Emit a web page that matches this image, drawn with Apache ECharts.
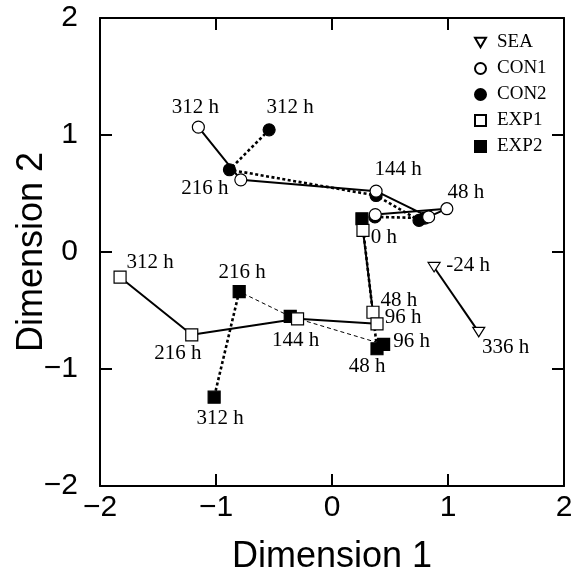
<!DOCTYPE html>
<html>
<head>
<meta charset="utf-8">
<script src="https://cdn.jsdelivr.net/npm/echarts@6/dist/echarts.min.js"></script>
<style>html,body{margin:0;padding:0;background:#fff;}#c{width:574px;height:577px;}</style>
</head>
<body>
<div id="c"></div>
<script>
// ---- data ----
const axisTicks = [-2, -1, 0, 1, 2];
const times = ['0 h', '48 h', '96 h', '144 h', '216 h', '312 h'];
const seaTimes = ['-24 h', '336 h'];
const seaX = [0.88, 1.265];
const seaY = [-0.13, -0.685];
const con1X = [0.373, 0.99, 0.833, 0.38, -0.786, -1.152];
const con1Y = [0.32, 0.37, 0.30, 0.52, 0.617, 1.067];
const con2X = [0.37, 0.80, 0.75, 0.38, -0.884, -0.542];
const con2Y = [0.30, 0.29, 0.27, 0.483, 0.703, 1.044];
const exp1X = [0.267, 0.353, 0.388, -0.297, -1.209, -1.827];
const exp1Y = [0.184, -0.515, -0.614, -0.571, -0.708, -0.215];
const exp2X = [0.258, 0.388, 0.445, -0.36, -0.80, -1.016];
const exp2Y = [0.284, -0.827, -0.79, -0.551, -0.338, -1.241];

// ---- layout (label offsets in px, per point index) ----
const labelPlace = {
  SEA: {0: [34, -2], 1: [27, 15]},
  CON1: {1: [19, -16], 3: [22, -22], 4: [-36, 9], 5: [-3, -20]},
  CON2: {5: [21, -22]},
  EXP1: {0: [21, 7], 1: [26, -12], 2: [26, -6], 3: [-2, 22], 4: [-14, 19], 5: [30, -15]},
  EXP2: {1: [-10, 18], 2: [28, -3], 4: [3, -19], 5: [6, 21]}
};

const serif = '"Liberation Serif","Times New Roman",serif';
const sans = '"Liberation Sans",Arial,sans-serif';
const downTri = 'path://M0,0L10,0L5,8.66Z';

function pts(xs, ys) { return xs.map((x, i) => [x, ys[i]]); }
function scatterData(name, xs, ys, labels) {
  const place = labelPlace[name] || {};
  return xs.map((x, i) => {
    const item = {value: [x, ys[i]]};
    if (place[i]) {
      item.label = {show: true, formatter: labels[i], offset: place[i]};
    }
    return item;
  });
}
function scatter(name, xs, ys, labels, symbol, filled, z) {
  return {
    name: name, type: 'scatter', z: z,
    symbol: symbol, symbolSize: symbol === downTri ? [12, 11] : 12,
    symbolKeepAspect: true,
    itemStyle: {color: filled ? '#000' : '#fff', borderColor: '#000', borderWidth: 1.2, opacity: 1},
    label: {show: false, position: 'inside', color: '#000', fontFamily: serif, fontSize: 21,
            align: 'center', verticalAlign: 'middle'},
    emphasis: {disabled: true},
    data: scatterData(name, xs, ys, labels)
  };
}
function line(data, width, type) {
  return {
    type: 'line', z: 2, silent: true, showSymbol: false, symbol: 'none', connectNulls: false,
    lineStyle: {color: '#000', width: width, type: type},
    emphasis: {disabled: true},
    data: data
  };
}

const exp2Pts = pts(exp2X, exp2Y);
const series = [
  line(pts(seaX, seaY), 2, 'solid'),
  line(pts(con1X, con1Y), 2, 'solid'),
  line(pts(con2X, con2Y), 2.6, [3, 2.5]),
  line(pts(exp1X, exp1Y), 2, 'solid'),
  line(exp2Pts.slice(1, 5), 1, [4, 3]),
  line([exp2Pts[0], exp2Pts[1], ['-', '-'], exp2Pts[4], exp2Pts[5]], 2.6, [3, 2.5]),
  scatter('EXP2', exp2X, exp2Y, times, 'rect', true, 3),
  scatter('EXP1', exp1X, exp1Y, times, 'rect', false, 4),
  scatter('CON2', con2X, con2Y, times, 'circle', true, 5),
  scatter('CON1', con1X, con1Y, times, 'circle', false, 6),
  scatter('SEA', seaX, seaY, seaTimes, downTri, false, 7)
];

const minusFmt = v => String(v).replace('-', '\u2212');
const axisCommon = {
  type: 'value', min: axisTicks[0], max: axisTicks[axisTicks.length - 1], interval: 1,
  splitLine: {show: false},
  axisLine: {show: true, onZero: false, lineStyle: {color: '#000', width: 2}},
  axisTick: {show: true, inside: true, length: 12, lineStyle: {color: '#000', width: 2}}
};

const chart = echarts.init(document.getElementById('c'), null, {renderer: 'canvas'});
chart.setOption({
  animation: false,
  backgroundColor: '#fff',
  grid: {left: 100, right: 10, top: 18, bottom: 91, containLabel: false, outerBoundsMode: 'none'},
  legend: {
    show: true, orient: 'vertical', left: 469, top: 28,
    data: ['SEA', 'CON1', 'CON2', 'EXP1', 'EXP2'],
    itemWidth: 11, itemHeight: 11, itemGap: 7,
    textStyle: {fontFamily: serif, fontSize: 19, color: '#000', lineHeight: 18, padding: [0, 0, 0, 6]},
    selectedMode: false
  },
  xAxis: [
    Object.assign({}, axisCommon, {
      position: 'bottom', name: 'Dimension 1', nameLocation: 'middle', nameGap: 53,
      nameMoveOverlap: false,
      nameTextStyle: {fontFamily: sans, fontSize: 36, color: '#000'},
      axisLabel: {show: true, margin: 7, fontFamily: sans, fontSize: 30, color: '#000', formatter: minusFmt}
    }),
    Object.assign({}, axisCommon, {position: 'top', axisLabel: {show: false}})
  ],
  yAxis: [
    Object.assign({}, axisCommon, {
      position: 'left', name: 'Dimension 2', nameLocation: 'middle', nameGap: 50,
      nameMoveOverlap: false,
      nameTextStyle: {fontFamily: sans, fontSize: 36, color: '#000'},
      axisLabel: {show: true, margin: 22, fontFamily: sans, fontSize: 30, color: '#000', formatter: minusFmt}
    }),
    Object.assign({}, axisCommon, {position: 'right', axisLabel: {show: false}})
  ],
  series: series
});
</script>
</body>
</html>
